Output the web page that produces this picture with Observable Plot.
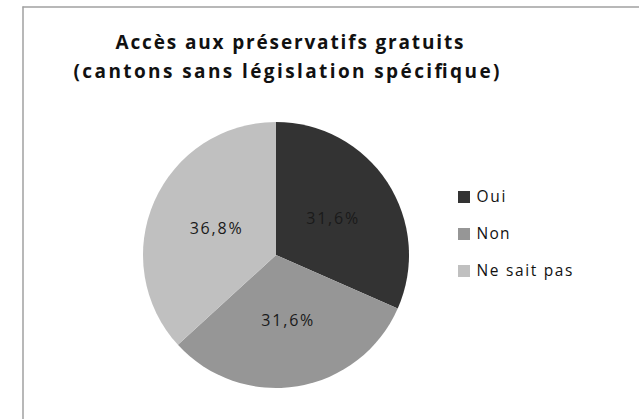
<!DOCTYPE html>
<html>
<head>
<meta charset="utf-8">
<script src="https://cdn.jsdelivr.net/npm/d3@7"></script>
<script src="https://cdn.jsdelivr.net/npm/@observablehq/plot@0.6"></script>
<style>
  html, body { margin: 0; padding: 0; background: #fff; }
  svg { display: block; }
</style>
</head>
<body>
<div id="chart"></div>
<script>
const categories = ["Oui", "Non", "Ne sait pas"];
const values = [31.6, 31.6, 36.8];
const valueLabels = ["31,6%", "31,6%", "36,8%"];
const colors = ["#333333", "#969696", "#c0c0c0"];
const titleLines = ["Accès aux préservatifs gratuits", "(cantons sans législation spécifique)"];

const W = 639, H = 419;
const cx = 276, cy = 255, R = 133;

const data = categories.map((c, i) => ({category: c, value: values[i], label: valueLabels[i], color: colors[i], i}));
const arcs = d3.pie().sort(null).value(d => d.value)(data);
const arcGen = d3.arc().innerRadius(0).outerRadius(R);
const labelArc = d3.arc().innerRadius(R * 0.5).outerRadius(R * 0.5);

function pieMark(index, scales) {
  const g = d3.create("svg:g");
  g.selectAll("path")
    .data(arcs)
    .join("path")
    .attr("transform", `translate(${scales.x(cx)},${scales.y(cy)})`)
    .attr("d", arcGen)
    .attr("fill", d => d.data.color);
  return g.node();
}

const labelData = arcs.map(a => {
  const [lx, ly] = labelArc.centroid(a);
  return {x: cx + lx, y: cy + ly, text: a.data.label};
});

const legendX = 458, legendY0 = 197, legendStep = 37, sw = 12;
const legendData = data.map((d, i) => ({...d, ly: legendY0 + i * legendStep}));

const titleData = titleLines.map((t, i) => ({t, x: [289, 286][i], y: [42, 71][i], i}));

const plot = Plot.plot({
  width: W,
  height: H,
  margin: 0,
  x: {domain: [0, W], range: [0, W], axis: null},
  y: {domain: [0, H], range: [0, H], axis: null},
  style: {background: "#fff", overflow: "visible"},
  marks: [
    Plot.ruleX([22.5], {y1: 6.5, y2: H, stroke: "#a0a0a0", strokeWidth: 1.5}),
    Plot.ruleY([6.5], {x1: 22.5, x2: W, stroke: "#a0a0a0", strokeWidth: 1.5}),
    pieMark,
    Plot.text(labelData, {x: "x", y: "y", text: "text", fontSize: 16, fill: "#1a1a1a", fontFamily: "Open Sans", textAnchor: "middle", lineAnchor: "middle", className: "val-text"}),
    Plot.rect(legendData, {x1: legendX, x2: legendX + sw, y1: d => d.ly - sw / 2, y2: d => d.ly + sw / 2, fill: "color"}),
    Plot.text(legendData, {x: legendX + sw + 6, y: "ly", text: "category", textAnchor: "start", lineAnchor: "middle", fontSize: 15.5, fill: "#111", fontFamily: "Open Sans", className: "leg-text"}),
    Plot.text(titleData, {x: "x", y: "y", text: "t", textAnchor: "middle", fontSize: 19, fontWeight: "bold", fill: "#111", fontFamily: "Open Sans", className: "title-text"})
  ]
});

document.getElementById("chart").appendChild(plot);

// stretch text to the reference's letter-spaced widths
function stretch(cls, widths) {
  d3.select(plot).selectAll(`.${cls} text`).each(function(d, i) {
    d3.select(this).attr("textLength", widths[i]).attr("lengthAdjust", "spacing");
  });
}
// title y values are baselines
d3.select(plot).selectAll(".title-text text").attr("dy", null);
stretch("title-text", [348, 426]);
stretch("val-text", [52, 52, 52]);
stretch("leg-text", [29, 33, 96]);
</script>
</body>
</html>
